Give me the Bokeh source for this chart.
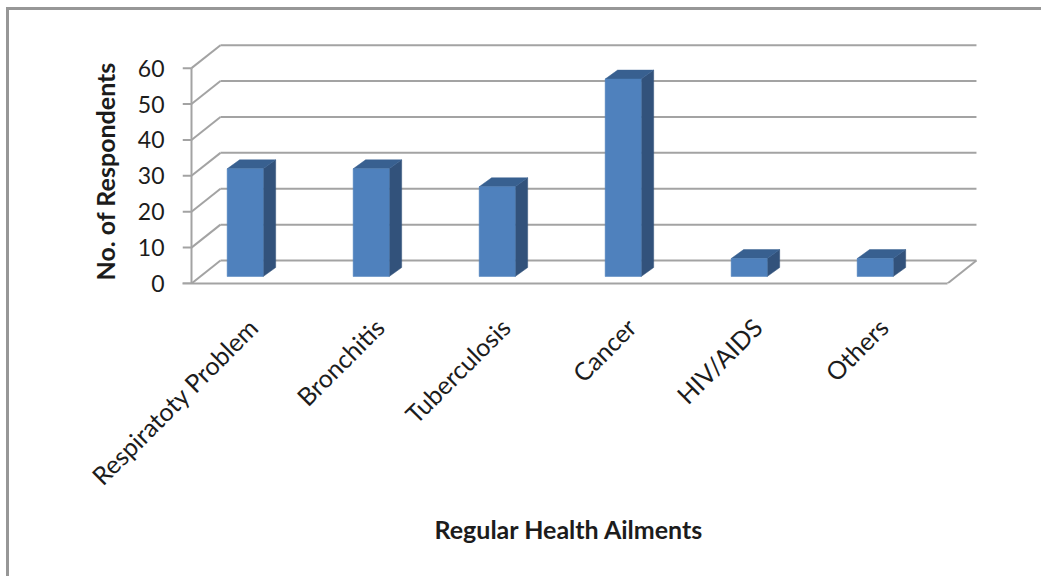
from bokeh.plotting import figure
from bokeh.models import Range1d, FixedTicker, Title
from bokeh.embed import file_html
from bokeh.resources import INLINE
import math

categories = ["Respiratoty Problem", "Bronchitis", "Tuberculosis", "Cancer", "HIV/AIDS", "Others"]
values = [30, 30, 25, 55, 5, 5]
y_ticks = [0, 10, 20, 30, 40, 50, 60]

W, H = 1041, 576
FONT = "Lato"
GRID = "#a3a3a3"
TEXT = "#1c1c1c"
EDGE = "#979797"
n = len(categories)

# 3D projection offsets, in data units
WALL_DX, WALL_DY = 0.23, 6.4
BAR_DX, BAR_DY = 0.099, 2.5
BAR_INSET, BAR_W, BAR_BASE = 0.283, 0.286, 1.95
TICK_LEN = 0.0714

p = figure(width=W, height=H, output_backend="svg", toolbar_location=None,
           x_range=Range1d(-TICK_LEN, 6.262), y_range=Range1d(0, 67.7),
           min_border_left=182, min_border_right=61, min_border_top=40, min_border_bottom=293,
           outline_line_color=None, background_fill_color=None, border_fill_color=None)
p.styles = {"background": (f"linear-gradient({EDGE},{EDGE}) 6px 7px / 100% 3px no-repeat, "
                           f"linear-gradient({EDGE},{EDGE}) 6px 7px / 3px 100% no-repeat, white")}
p.grid.visible = False

# back wall and side wall lines
p.multi_line([[WALL_DX, n + WALL_DX] for _ in y_ticks], [[v + WALL_DY] * 2 for v in y_ticks],
             line_color=GRID, line_width=2)
p.multi_line([[0, WALL_DX] for _ in y_ticks], [[v, v + WALL_DY] for v in y_ticks],
             line_color=GRID, line_width=2)
p.line([n, n + WALL_DX], [0, WALL_DY], line_color=GRID, line_width=2)

# value axis line and its tick marks
p.line([0, 0], [y_ticks[0], y_ticks[-1]], line_color=GRID, line_width=2)
p.multi_line([[-TICK_LEN, 0] for _ in y_ticks], [[v, v] for v in y_ticks], line_color=GRID, line_width=2)

# bars
fx, fy, sx, sy, tx, ty = [], [], [], [], [], []
for i, v in enumerate(values):
    x0 = i + BAR_INSET
    x1 = x0 + BAR_W
    y0 = BAR_BASE
    y1 = BAR_BASE + v
    fx.append([x0, x1, x1, x0]); fy.append([y0, y0, y1, y1])
    sx.append([x1, x1 + BAR_DX, x1 + BAR_DX, x1]); sy.append([y0, y0 + BAR_DY, y1 + BAR_DY, y1])
    tx.append([x0, x1, x1 + BAR_DX, x0 + BAR_DX]); ty.append([y1, y1, y1 + BAR_DY, y1 + BAR_DY])
p.patches(sx, sy, fill_color="#32527b", line_color="#32527b", line_width=0.5)
p.patches(tx, ty, fill_color="#386090", line_color="#386090", line_width=0.5)
p.patches(fx, fy, fill_color="#4f81bd", line_color="#4f81bd", line_width=0.5)

# axes
ya = p.yaxis[0]
ya.ticker = FixedTicker(ticks=y_ticks)
ya.axis_line_color = None
ya.major_tick_line_color = None
ya.major_tick_in = 0
ya.major_tick_out = 0
ya.minor_tick_line_color = None
ya.major_label_standoff = 18
ya.major_label_text_font = FONT
ya.major_label_text_font_size = "23px"
ya.major_label_text_color = TEXT

xa = p.xaxis[0]
ticks = [i + 0.49 for i in range(n)]
xa.ticker = FixedTicker(ticks=ticks)
xa.major_label_overrides = {t: c for t, c in zip(ticks, categories)}
xa.major_label_orientation = math.pi / 4
xa.bounds = (-TICK_LEN, n)
xa.axis_line_color = GRID
xa.axis_line_width = 2
xa.major_tick_line_color = None
xa.major_tick_out = 0
xa.major_tick_in = 0
xa.minor_tick_line_color = None
xa.major_label_standoff = 39
xa.major_label_text_font = FONT
xa.major_label_text_font_size = "25px"
xa.major_label_text_color = TEXT

# titles
p.add_layout(Title(text="Regular Health Ailments", align="left", offset=252, standoff=16,
                   text_font=FONT, text_font_style="bold", text_font_size="25px", text_color=TEXT), "below")
p.add_layout(Title(text="No. of Respondents", align="left", offset=3, standoff=30,
                   text_font=FONT, text_font_style="bold", text_font_size="25px", text_color=TEXT), "left")

open("out.html", "w").write(file_html(p, INLINE))
